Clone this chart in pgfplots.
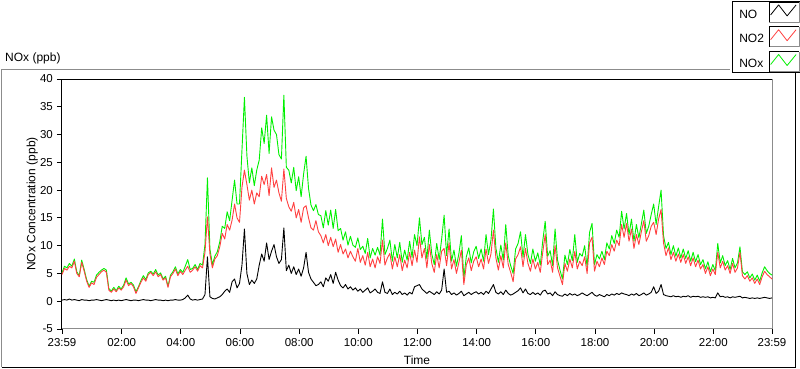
\documentclass[border=0pt]{standalone}
\usepackage{pgfplots}
\pgfplotsset{compat=1.18}
\usepackage{pgfplotstable}
\usepackage{fontspec}
\setmainfont{Liberation Sans}
\definecolor{noxgreen}{RGB}{0,240,0}
\definecolor{no2red}{RGB}{255,64,64}
\definecolor{framegray}{RGB}{140,140,140}
\pgfplotstableread{
min NO NO2 NOx
0 0.2 4.8 5.1
5 0.3 5.9 6.3
10 0.2 5.6 6.0
15 0.4 6.3 6.8
20 0.2 6.0 6.3
25 0.3 7.2 7.6
30 0.2 5.0 5.3
35 0.1 4.4 4.6
40 0.3 7.0 7.4
45 0.2 5.4 5.7
50 0.2 3.6 3.9
55 0.1 2.5 2.7
60 0.2 3.3 3.6
65 0.2 3.0 3.4
70 0.3 4.3 4.7
75 0.2 4.8 5.2
80 0.1 5.3 5.6
85 0.2 5.6 5.9
90 0.3 5.2 5.6
95 0.2 2.0 2.3
100 0.1 1.6 1.8
105 0.2 2.2 2.5
110 0.1 1.7 1.9
115 0.2 2.4 2.7
120 0.1 2.0 2.2
125 0.2 2.6 2.9
130 0.3 3.8 4.2
135 0.2 2.8 3.1
140 0.1 3.2 3.4
145 0.2 2.6 2.9
150 0.2 1.4 1.7
155 0.1 2.4 2.6
160 0.2 3.4 3.7
165 0.3 4.2 4.6
170 0.2 3.6 3.9
175 0.2 4.8 5.1
180 0.1 5.2 5.4
185 0.2 4.6 4.9
190 0.3 5.3 5.7
195 0.2 4.4 4.7
200 0.2 4.8 5.1
205 0.1 3.8 4.0
210 0.2 4.2 4.5
215 0.1 2.5 2.7
220 0.2 4.4 4.7
225 0.2 5.0 5.3
230 0.3 5.8 6.2
235 0.2 4.6 4.9
240 0.2 5.4 5.7
245 0.3 4.8 5.2
250 0.6 5.6 6.3
255 1.1 6.3 7.5
260 0.4 5.2 5.7
265 0.2 5.6 5.9
270 0.3 6.2 6.6
275 0.2 5.4 5.7
280 0.3 6.4 6.8
285 0.4 6.0 6.5
290 1.2 8.8 10.2
295 8.0 15.2 22.2
300 0.8 8.5 9.4
305 0.5 6.0 6.6
310 0.4 7.6 8.1
315 0.6 8.2 8.9
320 0.8 9.8 10.7
325 1.2 12.2 13.5
330 1.8 11.2 13.1
335 2.2 13.8 16.1
340 1.6 12.8 14.5
345 3.5 14.6 18.2
350 4.0 17.5 21.8
355 2.4 15.0 17.5
360 3.2 14.2 17.5
365 6.5 20.5 27.2
370 13.0 23.6 36.7
375 5.0 21.0 26.2
380 3.0 18.2 21.3
385 3.8 20.0 24.0
390 3.2 17.5 20.8
395 4.0 19.5 23.6
400 6.5 18.8 25.4
405 8.5 22.5 31.2
410 7.2 21.0 28.4
415 10.5 22.8 33.5
420 7.5 19.0 26.6
425 9.0 24.0 33.2
430 10.2 20.5 30.8
435 8.0 21.8 30.0
440 6.8 19.5 26.4
445 7.5 18.0 25.6
450 13.2 23.8 37.1
455 5.5 18.5 24.1
460 6.5 17.0 23.6
465 5.0 16.2 21.3
470 6.2 17.8 24.1
475 4.8 15.0 19.9
480 5.8 16.5 22.4
485 4.5 14.2 18.8
490 6.0 16.8 22.9
495 8.8 17.2 26.1
500 5.2 15.0 20.3
505 4.0 13.2 17.3
510 3.4 12.8 16.3
515 2.8 14.5 17.4
520 3.0 12.5 15.6
525 3.5 11.8 15.4
530 2.6 10.5 13.2
535 4.2 12.0 16.3
540 3.6 10.0 13.7
545 4.8 11.5 16.4
550 3.2 9.8 13.1
555 5.2 11.2 16.5
560 3.8 8.8 12.7
565 2.8 10.2 13.1
570 2.4 8.5 11.0
575 3.0 9.4 12.5
580 2.2 7.8 10.1
585 2.6 9.0 11.7
590 2.0 8.0 10.1
595 2.4 7.2 9.7
600 1.8 9.5 11.4
605 2.2 7.0 9.3
610 1.6 8.2 9.9
615 2.0 6.5 8.6
620 2.4 8.8 11.3
625 1.5 6.2 7.8
630 1.8 7.6 9.5
635 2.2 6.0 8.3
640 1.6 8.0 9.7
645 1.4 6.8 8.3
650 3.5 11.0 14.8
655 1.6 6.5 8.4
660 1.4 7.8 9.5
665 2.2 8.6 11.0
670 1.2 5.8 7.2
675 1.6 8.0 10.2
680 1.3 6.2 7.8
685 1.8 8.4 10.6
690 1.2 5.5 7.0
695 1.5 7.4 9.2
700 1.1 6.0 7.4
705 1.6 8.8 10.8
710 1.3 6.4 7.9
715 2.6 9.2 12.0
720 2.8 7.0 10.0
725 3.0 11.6 15.0
730 2.2 7.8 10.2
735 1.8 9.5 11.5
740 1.4 6.0 7.6
745 1.8 10.2 12.8
750 1.5 6.8 8.5
755 1.2 5.2 6.6
760 1.7 8.4 10.4
765 1.3 6.0 7.5
770 2.0 9.0 11.2
775 5.8 9.5 15.5
780 1.6 6.4 8.2
785 1.8 10.5 13.0
790 1.2 5.8 7.2
795 1.5 7.5 9.2
800 1.1 5.0 6.3
805 1.4 7.0 8.6
810 1.8 9.2 11.8
815 1.0 3.0 4.2
820 1.3 6.5 8.0
825 1.6 7.8 9.6
830 1.2 5.5 6.9
835 1.5 7.2 8.9
840 1.7 8.0 9.9
845 1.3 6.2 7.7
850 1.6 7.6 9.4
855 1.2 5.8 7.2
860 1.8 9.4 12.0
865 1.4 6.8 8.4
870 2.2 8.5 11.0
875 3.0 12.8 16.6
880 1.6 7.8 9.6
885 1.3 5.6 7.0
890 1.7 8.2 10.1
895 1.2 6.0 7.4
900 2.0 10.5 13.8
905 1.4 6.6 8.2
910 1.1 5.2 6.4
915 1.3 3.5 5.0
920 1.6 7.6 9.4
925 1.9 8.4 10.4
930 2.4 9.8 12.5
935 1.5 6.2 7.9
940 2.2 9.5 12.0
945 1.4 6.8 8.4
950 1.2 5.4 6.8
955 1.6 7.6 9.4
960 1.2 5.8 7.2
965 1.5 7.0 8.7
970 1.1 5.2 6.5
975 1.8 8.8 10.8
980 2.0 12.0 14.4
985 1.3 6.6 8.1
990 1.5 7.4 9.1
995 1.0 5.2 6.4
1000 1.7 10.0 13.0
1005 1.2 6.0 7.4
1010 1.0 4.5 5.6
1015 0.9 3.0 4.0
1020 1.3 6.8 8.3
1025 1.0 5.4 6.6
1030 1.4 7.6 9.3
1035 1.1 6.0 7.3
1040 1.3 9.0 12.0
1045 1.0 5.8 7.0
1050 1.2 7.2 8.6
1055 1.5 6.4 8.1
1060 1.2 8.0 10.0
1065 1.0 5.0 6.2
1070 1.3 10.5 12.4
1075 1.6 11.5 14.0
1080 1.1 5.4 6.6
1085 0.9 7.2 8.4
1090 1.2 6.2 7.6
1095 1.0 7.8 9.0
1100 0.8 6.6 7.5
1105 1.2 9.0 10.5
1110 1.0 8.2 9.4
1115 1.3 10.2 11.8
1120 1.1 9.0 10.4
1125 1.4 11.0 12.8
1130 1.2 10.0 11.5
1135 1.5 13.8 16.2
1140 1.3 11.5 13.0
1145 1.2 14.0 15.8
1150 1.0 10.8 12.0
1155 1.3 13.0 14.8
1160 1.1 9.5 10.8
1165 1.4 12.0 13.8
1170 1.0 10.2 11.4
1175 1.2 12.5 13.9
1180 1.5 14.5 16.4
1185 1.1 10.8 12.2
1190 1.3 11.8 13.5
1195 1.6 13.5 15.6
1200 2.6 14.2 17.5
1205 1.4 12.0 13.8
1210 1.8 14.8 17.0
1215 3.0 16.5 20.0
1220 1.2 10.5 11.8
1225 1.0 8.2 9.5
1230 0.9 9.6 10.6
1235 0.8 7.5 8.4
1240 1.0 8.8 10.0
1245 0.8 7.2 8.1
1250 0.9 8.5 9.6
1255 0.7 7.0 7.8
1260 0.9 8.4 9.4
1265 0.8 6.8 7.7
1270 1.0 8.0 9.1
1275 0.7 6.4 7.2
1280 0.9 7.8 8.8
1285 0.8 6.2 7.1
1290 0.9 7.4 8.4
1295 0.7 5.8 6.6
1300 0.8 6.6 7.5
1305 0.7 5.0 5.8
1310 0.8 6.2 7.1
1315 0.6 4.6 5.3
1320 0.7 5.8 6.6
1325 0.6 4.8 5.5
1330 1.5 8.8 10.4
1335 0.8 6.0 6.9
1340 0.9 7.2 8.2
1345 0.7 5.6 6.4
1350 0.8 6.4 7.3
1355 0.6 5.0 5.7
1360 0.8 6.8 7.7
1365 0.7 5.2 6.0
1370 0.8 6.0 6.9
1375 0.9 8.8 9.8
1380 0.6 4.6 5.3
1385 0.7 4.0 4.8
1390 0.6 4.6 5.3
1395 0.5 3.6 4.2
1400 0.6 4.2 4.9
1405 0.5 3.2 3.8
1410 0.6 4.0 4.7
1415 0.5 3.0 3.6
1420 0.6 4.4 5.1
1425 0.7 5.4 6.2
1430 0.6 4.8 5.5
1435 0.5 4.4 5.0
1440 0.6 4.0 4.7
}\datatable

\begin{document}
\fontsize{12}{14}\selectfont
\begin{tikzpicture}[x=1pt,y=1pt]
\useasboundingbox (0,0) rectangle (800,369);
% outer panel frame
\draw[framegray, line width=1pt] (1.5,1.5) -- (1.5,299.5) -- (730,299.5);
\draw[black, line width=1pt] (1.5,1.5) -- (795.5,1.5) -- (795.5,297);
\node[anchor=west, inner sep=0pt] at (5pt,311pt) {NOx (ppb)};
\begin{axis}[
  at={(62pt,40pt)}, anchor=south west,
  scale only axis, width=710pt, height=250pt,
  xmin=0, xmax=1440, ymin=-5, ymax=40,
  clip=false,
  axis line style={draw=none},
  xtick={0,121,241,361,481,601,721,841,961,1081,1201,1321,1440},
  xticklabels={23:59,02:00,04:00,06:00,08:00,10:00,12:00,14:00,16:00,18:00,20:00,22:00,23:59},
  minor x tick num=7,
  ytick={-5,0,5,10,15,20,25,30,35,40},
  xtick pos=bottom, ytick pos=left,
  tick align=outside,
  major tick length=5pt, minor tick length=3pt,
  every tick/.style={black, line width=0.8pt},
  ticklabel style={font=\fontsize{11.5}{13}\selectfont},
  /pgf/number format/assume math mode=true,
  xlabel={Time}, ylabel={NOx Concentration (ppb)},
  xlabel style={at={(axis description cs:0.5,-0.124)}, anchor=center},
  ylabel style={at={(axis description cs:-0.042,0.5)}, anchor=center},
  legend plot pos=right,
  reverse legend,
  legend cell align=left,
  legend style={at={(axis description cs:1.0465,1.314)}, anchor=north east,
    draw=black, line width=1pt, fill=white, inner xsep=5pt, inner ysep=0.5pt,
    row sep=4pt, column sep=3pt,
    nodes={inner sep=1.75pt, line width=0.8pt}},
  legend image code/.code={
    \draw[framegray, line width=0.8pt] (0pt,-7pt) -- (30pt,-7pt) -- (30pt,13pt);
    \draw[black, line width=0.8pt] (0pt,-7pt) -- (0pt,13pt) -- (30pt,13pt);
    \draw[#1, line width=0.8pt] (1.5pt,0pt) -- (9.5pt,10pt) -- (18pt,-1pt) -- (27pt,10pt);
  },
]
\draw[framegray, line width=1pt] (rel axis cs:1,1) -- (rel axis cs:1,0) -- (rel axis cs:0,0);
\draw[black, line width=1pt] (rel axis cs:0,0) -- (rel axis cs:0,1) -- (rel axis cs:1,1);
\addplot[noxgreen, line width=0.9pt, line join=round] table[x=min, y=NOx] {\datatable};
\addlegendentry{NOx}
\addplot[no2red, line width=0.9pt, line join=round] table[x=min, y=NO2] {\datatable};
\addlegendentry{NO2}
\addplot[black, line width=0.9pt, line join=round] table[x=min, y=NO] {\datatable};
\addlegendentry{NO}
\end{axis}
\end{tikzpicture}
\end{document}
